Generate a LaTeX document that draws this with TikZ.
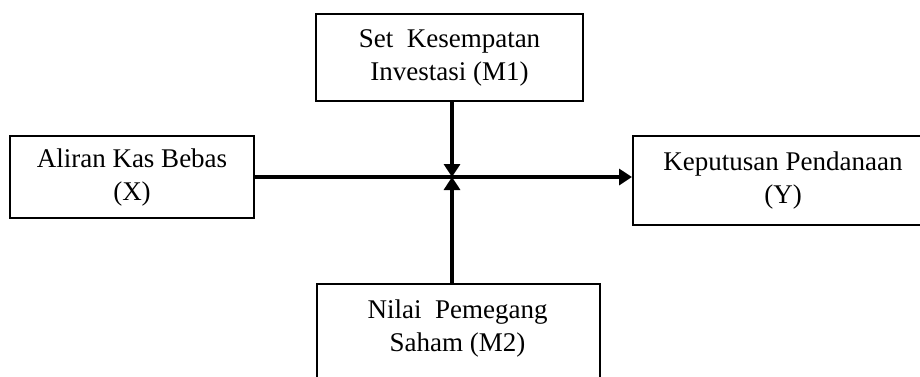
\documentclass[tikz,border=0pt]{standalone}
\usepackage{fontspec}
\setmainfont{Liberation Serif}
\usetikzlibrary{arrows.meta}
\begin{document}
\begin{tikzpicture}[x=1pt,y=-1pt,
  boxshape/.style={draw=black, line width=2pt, rectangle, inner sep=0pt, fill=white},
  txt/.style={align=center, font=\fontsize{27}{33}\selectfont, inner sep=0pt},
  conn/.style={line width=3.6pt, -{Triangle[length=13pt,width=16pt]}}]
\useasboundingbox (0,0) rectangle (920,376);
\fill[white] (0,0) rectangle (920,376);
\begin{scope}
\clip (0,0) rectangle (920,376);
\coordinate (j) at (452,177);
\node[boxshape, txt, minimum width=267pt, minimum height=87pt] (m1) at (449.5,57.5) {Set\ \ Kesempatan\\Investasi (M1)};
\node[boxshape, txt, minimum width=244pt, minimum height=82pt] (x) at (132,177) {Aliran Kas Bebas\\(X)};
\node[boxshape, txt, minimum width=300pt, minimum height=89pt] (y) at (783,180.5) {Keputusan Pendanaan\\(Y)};
\node[boxshape, minimum width=283pt, minimum height=130pt, anchor=north west] (m2) at (316,283) {};
\node[txt] (m2t) at (457.5,328) {Nilai\ \ Pemegang\\Saham (M2)};
\draw[conn] (x.east |- j) -- (j -| y.west);
\draw[conn] (m1.south -| j) -- (j);
\draw[conn] (m2.north -| j) -- (j);
\end{scope}
\end{tikzpicture}
\end{document}
